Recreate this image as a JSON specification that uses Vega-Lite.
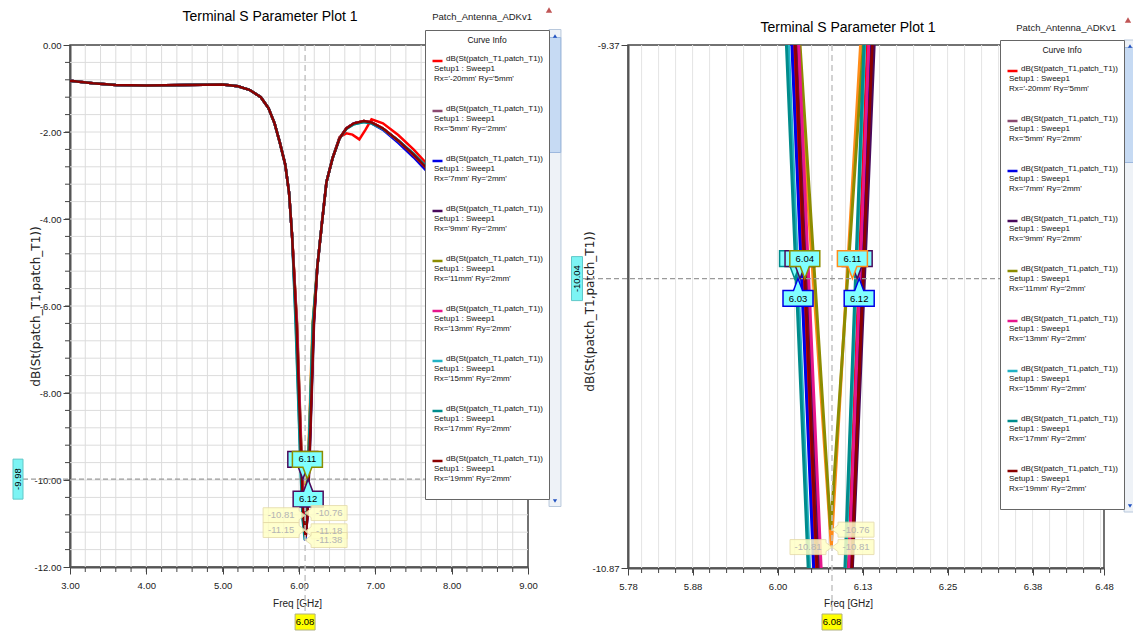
{
  "$schema": "https://vega.github.io/schema/vega-lite/v6.json",
  "background": "white",
  "padding": {"left": 10, "top": 6, "right": 0, "bottom": 0},
  "spacing": 4,
  "config": {
    "font": "Liberation Sans",
    "view": {"stroke": "#444", "strokeWidth": 1.5},
    "axis": {
      "labelFont": "Liberation Sans",
      "labelFontSize": 9.5,
      "labelColor": "#222",
      "titleFont": "Liberation Sans",
      "titleFontWeight": "normal",
      "titleColor": "#222",
      "titleFontSize": 10,
      "domainColor": "#555",
      "domainWidth": 2,
      "tickColor": "#444",
      "grid": false,
      "labelFlush": false,
      "labelOverlap": false
    },
    "legend": {
      "orient": "none",
      "titleFont": "Liberation Sans",
      "titleFontSize": 8.5,
      "titleFontWeight": "normal",
      "titleColor": "#111",
      "titleAnchor": "middle",
      "titleAlign": "center",
      "titlePadding": 10,
      "labelFont": "Liberation Sans",
      "labelFontSize": 8,
      "labelColor": "#111",
      "labelBaseline": "alphabetic",
      "labelOffset": -10,
      "labelLimit": 300,
      "symbolType": "stroke",
      "symbolSize": 100,
      "symbolStrokeWidth": 2.5,
      "rowPadding": 11,
      "padding": 6,
      "strokeColor": "#666",
      "fillColor": "white"
    }
  },
  "resolve": {"legend": {"color": "independent"}},
  "datasets": {
    "gxL": [{"v":3.2},{"v":3.4},{"v":3.6},{"v":3.8},{"v":4},{"v":4.2},{"v":4.4},{"v":4.6},{"v":4.8},{"v":5},{"v":5.2},{"v":5.4},{"v":5.6},{"v":5.8},{"v":6},{"v":6.2},{"v":6.4},{"v":6.6},{"v":6.8},{"v":7},{"v":7.2},{"v":7.4},{"v":7.6},{"v":7.8},{"v":8},{"v":8.2},{"v":8.4},{"v":8.6},{"v":8.8}],
    "gyL": [{"v":-0.4},{"v":-0.8},{"v":-1.2},{"v":-1.6},{"v":-2},{"v":-2.4},{"v":-2.8},{"v":-3.2},{"v":-3.6},{"v":-4},{"v":-4.4},{"v":-4.8},{"v":-5.2},{"v":-5.6},{"v":-6},{"v":-6.4},{"v":-6.8},{"v":-7.2},{"v":-7.6},{"v":-8},{"v":-8.4},{"v":-8.8},{"v":-9.2},{"v":-9.6},{"v":-10},{"v":-10.4},{"v":-10.8},{"v":-11.2},{"v":-11.6}],
    "gxR": [{"v":5.8},{"v":5.825},{"v":5.85},{"v":5.875},{"v":5.9},{"v":5.925},{"v":5.95},{"v":5.975},{"v":6},{"v":6.025},{"v":6.05},{"v":6.075},{"v":6.1},{"v":6.125},{"v":6.15},{"v":6.175},{"v":6.2},{"v":6.225},{"v":6.25},{"v":6.275},{"v":6.3},{"v":6.325},{"v":6.35},{"v":6.375},{"v":6.4},{"v":6.425},{"v":6.45},{"v":6.475}],
    "curves": [
      {"c":"Rx='21mm' Ry='2mm'","f":3,"d":-0.82},{"c":"Rx='21mm' Ry='2mm'","f":3.3,"d":-0.88},{"c":"Rx='21mm' Ry='2mm'","f":3.6,"d":-0.92},{"c":"Rx='21mm' Ry='2mm'","f":4,"d":-0.93},{"c":"Rx='21mm' Ry='2mm'","f":4.5,"d":-0.92},{"c":"Rx='21mm' Ry='2mm'","f":5,"d":-0.91},{"c":"Rx='21mm' Ry='2mm'","f":5.2,"d":-0.95},{"c":"Rx='21mm' Ry='2mm'","f":5.35,"d":-1.03},{"c":"Rx='21mm' Ry='2mm'","f":5.5,"d":-1.2},{"c":"Rx='21mm' Ry='2mm'","f":5.6,"d":-1.45},{"c":"Rx='21mm' Ry='2mm'","f":5.68,"d":-1.8},{"c":"Rx='21mm' Ry='2mm'","f":5.75,"d":-2.25},{"c":"Rx='21mm' Ry='2mm'","f":5.82,"d":-2.75},{"c":"Rx='21mm' Ry='2mm'","f":5.87,"d":-3.4},{"c":"Rx='21mm' Ry='2mm'","f":5.91,"d":-4.4},
      {"c":"Rx='21mm' Ry='2mm'","f":5.971,"d":-6.4},{"c":"Rx='21mm' Ry='2mm'","f":6.029,"d":-9.37},{"c":"Rx='21mm' Ry='2mm'","f":6.079,"d":-10.81},{"c":"Rx='21mm' Ry='2mm'","f":6.122,"d":-9.37},{"c":"Rx='21mm' Ry='2mm'","f":6.177,"d":-6.4},
      {"c":"Rx='21mm' Ry='2mm'","f":6.24,"d":-5.1},{"c":"Rx='21mm' Ry='2mm'","f":6.3,"d":-4.1},{"c":"Rx='21mm' Ry='2mm'","f":6.36,"d":-3.15},{"c":"Rx='21mm' Ry='2mm'","f":6.44,"d":-2.6},{"c":"Rx='21mm' Ry='2mm'","f":6.53,"d":-2.15},{"c":"Rx='21mm' Ry='2mm'","f":6.62,"d":-1.92},{"c":"Rx='21mm' Ry='2mm'","f":6.72,"d":-1.8},{"c":"Rx='21mm' Ry='2mm'","f":6.85,"d":-1.75},{"c":"Rx='21mm' Ry='2mm'","f":6.95,"d":-1.78},{"c":"Rx='21mm' Ry='2mm'","f":7.1,"d":-1.92},{"c":"Rx='21mm' Ry='2mm'","f":7.3,"d":-2.2},{"c":"Rx='21mm' Ry='2mm'","f":7.5,"d":-2.52},{"c":"Rx='21mm' Ry='2mm'","f":7.7,"d":-2.88},{"c":"Rx='21mm' Ry='2mm'","f":8,"d":-3.35},{"c":"Rx='21mm' Ry='2mm'","f":8.5,"d":-3.95},{"c":"Rx='21mm' Ry='2mm'","f":9,"d":-4.5},

      {"c":"Rx='-20mm' Ry='5mm'","f":3,"d":-0.82},{"c":"Rx='-20mm' Ry='5mm'","f":3.3,"d":-0.88},{"c":"Rx='-20mm' Ry='5mm'","f":3.6,"d":-0.92},{"c":"Rx='-20mm' Ry='5mm'","f":4,"d":-0.93},{"c":"Rx='-20mm' Ry='5mm'","f":4.5,"d":-0.92},{"c":"Rx='-20mm' Ry='5mm'","f":5,"d":-0.91},{"c":"Rx='-20mm' Ry='5mm'","f":5.2,"d":-0.95},{"c":"Rx='-20mm' Ry='5mm'","f":5.35,"d":-1.03},{"c":"Rx='-20mm' Ry='5mm'","f":5.5,"d":-1.2},{"c":"Rx='-20mm' Ry='5mm'","f":5.6,"d":-1.45},{"c":"Rx='-20mm' Ry='5mm'","f":5.68,"d":-1.8},{"c":"Rx='-20mm' Ry='5mm'","f":5.75,"d":-2.25},{"c":"Rx='-20mm' Ry='5mm'","f":5.82,"d":-2.75},{"c":"Rx='-20mm' Ry='5mm'","f":5.87,"d":-3.4},{"c":"Rx='-20mm' Ry='5mm'","f":5.91,"d":-4.4},
      {"c":"Rx='-20mm' Ry='5mm'","f":5.966,"d":-6.4},{"c":"Rx='-20mm' Ry='5mm'","f":6.024,"d":-9.37},{"c":"Rx='-20mm' Ry='5mm'","f":6.056,"d":-10.87},{"c":"Rx='-20mm' Ry='5mm'","f":6.082,"d":-11.2},{"c":"Rx='-20mm' Ry='5mm'","f":6.104,"d":-10.87},{"c":"Rx='-20mm' Ry='5mm'","f":6.132,"d":-9.37},{"c":"Rx='-20mm' Ry='5mm'","f":6.187,"d":-6.4},
      {"c":"Rx='-20mm' Ry='5mm'","f":6.24,"d":-5.1},{"c":"Rx='-20mm' Ry='5mm'","f":6.3,"d":-4.1},{"c":"Rx='-20mm' Ry='5mm'","f":6.36,"d":-3.15},{"c":"Rx='-20mm' Ry='5mm'","f":6.44,"d":-2.6},{"c":"Rx='-20mm' Ry='5mm'","f":6.53,"d":-2.12},{"c":"Rx='-20mm' Ry='5mm'","f":6.62,"d":-2.03},{"c":"Rx='-20mm' Ry='5mm'","f":6.7,"d":-2.06},{"c":"Rx='-20mm' Ry='5mm'","f":6.79,"d":-2.17},{"c":"Rx='-20mm' Ry='5mm'","f":6.87,"d":-1.95},{"c":"Rx='-20mm' Ry='5mm'","f":6.95,"d":-1.71},{"c":"Rx='-20mm' Ry='5mm'","f":7.1,"d":-1.8},{"c":"Rx='-20mm' Ry='5mm'","f":7.3,"d":-2.07},{"c":"Rx='-20mm' Ry='5mm'","f":7.5,"d":-2.4},{"c":"Rx='-20mm' Ry='5mm'","f":7.7,"d":-2.78},{"c":"Rx='-20mm' Ry='5mm'","f":8,"d":-3.28},{"c":"Rx='-20mm' Ry='5mm'","f":8.5,"d":-3.9},{"c":"Rx='-20mm' Ry='5mm'","f":9,"d":-4.45},

      {"c":"Rx='5mm' Ry='2mm'","f":3,"d":-0.82},{"c":"Rx='5mm' Ry='2mm'","f":3.3,"d":-0.88},{"c":"Rx='5mm' Ry='2mm'","f":3.6,"d":-0.92},{"c":"Rx='5mm' Ry='2mm'","f":4,"d":-0.93},{"c":"Rx='5mm' Ry='2mm'","f":4.5,"d":-0.92},{"c":"Rx='5mm' Ry='2mm'","f":5,"d":-0.91},{"c":"Rx='5mm' Ry='2mm'","f":5.2,"d":-0.95},{"c":"Rx='5mm' Ry='2mm'","f":5.35,"d":-1.03},{"c":"Rx='5mm' Ry='2mm'","f":5.5,"d":-1.2},{"c":"Rx='5mm' Ry='2mm'","f":5.6,"d":-1.45},{"c":"Rx='5mm' Ry='2mm'","f":5.68,"d":-1.8},{"c":"Rx='5mm' Ry='2mm'","f":5.75,"d":-2.25},{"c":"Rx='5mm' Ry='2mm'","f":5.82,"d":-2.75},{"c":"Rx='5mm' Ry='2mm'","f":5.87,"d":-3.4},{"c":"Rx='5mm' Ry='2mm'","f":5.91,"d":-4.4},
      {"c":"Rx='5mm' Ry='2mm'","f":5.969,"d":-6.4},{"c":"Rx='5mm' Ry='2mm'","f":6.027,"d":-9.37},{"c":"Rx='5mm' Ry='2mm'","f":6.059,"d":-10.87},{"c":"Rx='5mm' Ry='2mm'","f":6.085,"d":-11.25},{"c":"Rx='5mm' Ry='2mm'","f":6.106,"d":-10.87},{"c":"Rx='5mm' Ry='2mm'","f":6.136,"d":-9.37},{"c":"Rx='5mm' Ry='2mm'","f":6.191,"d":-6.4},
      {"c":"Rx='5mm' Ry='2mm'","f":6.24,"d":-5.1},{"c":"Rx='5mm' Ry='2mm'","f":6.3,"d":-4.1},{"c":"Rx='5mm' Ry='2mm'","f":6.36,"d":-3.15},{"c":"Rx='5mm' Ry='2mm'","f":6.44,"d":-2.6},{"c":"Rx='5mm' Ry='2mm'","f":6.53,"d":-2.15},{"c":"Rx='5mm' Ry='2mm'","f":6.62,"d":-1.92},{"c":"Rx='5mm' Ry='2mm'","f":6.72,"d":-1.8},{"c":"Rx='5mm' Ry='2mm'","f":6.85,"d":-1.75},{"c":"Rx='5mm' Ry='2mm'","f":6.95,"d":-1.78},{"c":"Rx='5mm' Ry='2mm'","f":7.1,"d":-1.92},{"c":"Rx='5mm' Ry='2mm'","f":7.3,"d":-2.2},{"c":"Rx='5mm' Ry='2mm'","f":7.5,"d":-2.52},{"c":"Rx='5mm' Ry='2mm'","f":7.7,"d":-2.88},{"c":"Rx='5mm' Ry='2mm'","f":8,"d":-3.35},{"c":"Rx='5mm' Ry='2mm'","f":8.5,"d":-3.95},{"c":"Rx='5mm' Ry='2mm'","f":9,"d":-4.5},

      {"c":"Rx='7mm' Ry='2mm'","f":3,"d":-0.82},{"c":"Rx='7mm' Ry='2mm'","f":3.3,"d":-0.88},{"c":"Rx='7mm' Ry='2mm'","f":3.6,"d":-0.92},{"c":"Rx='7mm' Ry='2mm'","f":4,"d":-0.93},{"c":"Rx='7mm' Ry='2mm'","f":4.5,"d":-0.92},{"c":"Rx='7mm' Ry='2mm'","f":5,"d":-0.91},{"c":"Rx='7mm' Ry='2mm'","f":5.2,"d":-0.95},{"c":"Rx='7mm' Ry='2mm'","f":5.35,"d":-1.03},{"c":"Rx='7mm' Ry='2mm'","f":5.5,"d":-1.2},{"c":"Rx='7mm' Ry='2mm'","f":5.6,"d":-1.45},{"c":"Rx='7mm' Ry='2mm'","f":5.68,"d":-1.8},{"c":"Rx='7mm' Ry='2mm'","f":5.75,"d":-2.25},{"c":"Rx='7mm' Ry='2mm'","f":5.82,"d":-2.75},{"c":"Rx='7mm' Ry='2mm'","f":5.87,"d":-3.4},{"c":"Rx='7mm' Ry='2mm'","f":5.91,"d":-4.4},
      {"c":"Rx='7mm' Ry='2mm'","f":5.963,"d":-6.4},{"c":"Rx='7mm' Ry='2mm'","f":6.021,"d":-9.37},{"c":"Rx='7mm' Ry='2mm'","f":6.053,"d":-10.87},{"c":"Rx='7mm' Ry='2mm'","f":6.083,"d":-11.4},{"c":"Rx='7mm' Ry='2mm'","f":6.108,"d":-10.87},{"c":"Rx='7mm' Ry='2mm'","f":6.138,"d":-9.37},{"c":"Rx='7mm' Ry='2mm'","f":6.193,"d":-6.4},
      {"c":"Rx='7mm' Ry='2mm'","f":6.24,"d":-5.1},{"c":"Rx='7mm' Ry='2mm'","f":6.3,"d":-4.1},{"c":"Rx='7mm' Ry='2mm'","f":6.36,"d":-3.15},{"c":"Rx='7mm' Ry='2mm'","f":6.44,"d":-2.6},{"c":"Rx='7mm' Ry='2mm'","f":6.53,"d":-2.15},{"c":"Rx='7mm' Ry='2mm'","f":6.62,"d":-1.92},{"c":"Rx='7mm' Ry='2mm'","f":6.72,"d":-1.8},{"c":"Rx='7mm' Ry='2mm'","f":6.85,"d":-1.76},{"c":"Rx='7mm' Ry='2mm'","f":6.95,"d":-1.8},{"c":"Rx='7mm' Ry='2mm'","f":7.1,"d":-1.95},{"c":"Rx='7mm' Ry='2mm'","f":7.3,"d":-2.25},{"c":"Rx='7mm' Ry='2mm'","f":7.5,"d":-2.58},{"c":"Rx='7mm' Ry='2mm'","f":7.7,"d":-2.95},{"c":"Rx='7mm' Ry='2mm'","f":8,"d":-3.42},{"c":"Rx='7mm' Ry='2mm'","f":8.5,"d":-4.02},{"c":"Rx='7mm' Ry='2mm'","f":9,"d":-4.58},

      {"c":"Rx='9mm' Ry='2mm'","f":3,"d":-0.82},{"c":"Rx='9mm' Ry='2mm'","f":3.3,"d":-0.88},{"c":"Rx='9mm' Ry='2mm'","f":3.6,"d":-0.92},{"c":"Rx='9mm' Ry='2mm'","f":4,"d":-0.93},{"c":"Rx='9mm' Ry='2mm'","f":4.5,"d":-0.92},{"c":"Rx='9mm' Ry='2mm'","f":5,"d":-0.91},{"c":"Rx='9mm' Ry='2mm'","f":5.2,"d":-0.95},{"c":"Rx='9mm' Ry='2mm'","f":5.35,"d":-1.03},{"c":"Rx='9mm' Ry='2mm'","f":5.5,"d":-1.2},{"c":"Rx='9mm' Ry='2mm'","f":5.6,"d":-1.45},{"c":"Rx='9mm' Ry='2mm'","f":5.68,"d":-1.8},{"c":"Rx='9mm' Ry='2mm'","f":5.75,"d":-2.25},{"c":"Rx='9mm' Ry='2mm'","f":5.82,"d":-2.75},{"c":"Rx='9mm' Ry='2mm'","f":5.87,"d":-3.4},{"c":"Rx='9mm' Ry='2mm'","f":5.91,"d":-4.4},
      {"c":"Rx='9mm' Ry='2mm'","f":5.972,"d":-6.4},{"c":"Rx='9mm' Ry='2mm'","f":6.03,"d":-9.37},{"c":"Rx='9mm' Ry='2mm'","f":6.062,"d":-10.87},{"c":"Rx='9mm' Ry='2mm'","f":6.088,"d":-11.3},{"c":"Rx='9mm' Ry='2mm'","f":6.11,"d":-10.87},{"c":"Rx='9mm' Ry='2mm'","f":6.142,"d":-9.37},{"c":"Rx='9mm' Ry='2mm'","f":6.197,"d":-6.4},
      {"c":"Rx='9mm' Ry='2mm'","f":6.24,"d":-5.1},{"c":"Rx='9mm' Ry='2mm'","f":6.3,"d":-4.1},{"c":"Rx='9mm' Ry='2mm'","f":6.36,"d":-3.15},{"c":"Rx='9mm' Ry='2mm'","f":6.44,"d":-2.6},{"c":"Rx='9mm' Ry='2mm'","f":6.53,"d":-2.15},{"c":"Rx='9mm' Ry='2mm'","f":6.62,"d":-1.92},{"c":"Rx='9mm' Ry='2mm'","f":6.72,"d":-1.8},{"c":"Rx='9mm' Ry='2mm'","f":6.85,"d":-1.75},{"c":"Rx='9mm' Ry='2mm'","f":6.95,"d":-1.78},{"c":"Rx='9mm' Ry='2mm'","f":7.1,"d":-1.92},{"c":"Rx='9mm' Ry='2mm'","f":7.3,"d":-2.2},{"c":"Rx='9mm' Ry='2mm'","f":7.5,"d":-2.54},{"c":"Rx='9mm' Ry='2mm'","f":7.7,"d":-2.9},{"c":"Rx='9mm' Ry='2mm'","f":8,"d":-3.37},{"c":"Rx='9mm' Ry='2mm'","f":8.5,"d":-3.97},{"c":"Rx='9mm' Ry='2mm'","f":9,"d":-4.52},

      {"c":"Rx='11mm' Ry='2mm'","f":3,"d":-0.82},{"c":"Rx='11mm' Ry='2mm'","f":3.3,"d":-0.88},{"c":"Rx='11mm' Ry='2mm'","f":3.6,"d":-0.92},{"c":"Rx='11mm' Ry='2mm'","f":4,"d":-0.93},{"c":"Rx='11mm' Ry='2mm'","f":4.5,"d":-0.92},{"c":"Rx='11mm' Ry='2mm'","f":5,"d":-0.91},{"c":"Rx='11mm' Ry='2mm'","f":5.2,"d":-0.95},{"c":"Rx='11mm' Ry='2mm'","f":5.35,"d":-1.03},{"c":"Rx='11mm' Ry='2mm'","f":5.5,"d":-1.2},{"c":"Rx='11mm' Ry='2mm'","f":5.6,"d":-1.45},{"c":"Rx='11mm' Ry='2mm'","f":5.68,"d":-1.8},{"c":"Rx='11mm' Ry='2mm'","f":5.75,"d":-2.25},{"c":"Rx='11mm' Ry='2mm'","f":5.82,"d":-2.75},{"c":"Rx='11mm' Ry='2mm'","f":5.87,"d":-3.4},{"c":"Rx='11mm' Ry='2mm'","f":5.91,"d":-4.4},
      {"c":"Rx='11mm' Ry='2mm'","f":5.975,"d":-6.4},{"c":"Rx='11mm' Ry='2mm'","f":6.033,"d":-9.37},{"c":"Rx='11mm' Ry='2mm'","f":6.078,"d":-10.76},{"c":"Rx='11mm' Ry='2mm'","f":6.126,"d":-9.37},{"c":"Rx='11mm' Ry='2mm'","f":6.181,"d":-6.4},
      {"c":"Rx='11mm' Ry='2mm'","f":6.24,"d":-5.1},{"c":"Rx='11mm' Ry='2mm'","f":6.3,"d":-4.1},{"c":"Rx='11mm' Ry='2mm'","f":6.36,"d":-3.15},{"c":"Rx='11mm' Ry='2mm'","f":6.44,"d":-2.6},{"c":"Rx='11mm' Ry='2mm'","f":6.53,"d":-2.15},{"c":"Rx='11mm' Ry='2mm'","f":6.62,"d":-1.92},{"c":"Rx='11mm' Ry='2mm'","f":6.72,"d":-1.8},{"c":"Rx='11mm' Ry='2mm'","f":6.85,"d":-1.75},{"c":"Rx='11mm' Ry='2mm'","f":6.95,"d":-1.78},{"c":"Rx='11mm' Ry='2mm'","f":7.1,"d":-1.92},{"c":"Rx='11mm' Ry='2mm'","f":7.3,"d":-2.2},{"c":"Rx='11mm' Ry='2mm'","f":7.5,"d":-2.52},{"c":"Rx='11mm' Ry='2mm'","f":7.7,"d":-2.88},{"c":"Rx='11mm' Ry='2mm'","f":8,"d":-3.35},{"c":"Rx='11mm' Ry='2mm'","f":8.5,"d":-3.95},{"c":"Rx='11mm' Ry='2mm'","f":9,"d":-4.5},

      {"c":"Rx='13mm' Ry='2mm'","f":3,"d":-0.82},{"c":"Rx='13mm' Ry='2mm'","f":3.3,"d":-0.88},{"c":"Rx='13mm' Ry='2mm'","f":3.6,"d":-0.92},{"c":"Rx='13mm' Ry='2mm'","f":4,"d":-0.93},{"c":"Rx='13mm' Ry='2mm'","f":4.5,"d":-0.92},{"c":"Rx='13mm' Ry='2mm'","f":5,"d":-0.91},{"c":"Rx='13mm' Ry='2mm'","f":5.2,"d":-0.95},{"c":"Rx='13mm' Ry='2mm'","f":5.35,"d":-1.03},{"c":"Rx='13mm' Ry='2mm'","f":5.5,"d":-1.2},{"c":"Rx='13mm' Ry='2mm'","f":5.6,"d":-1.45},{"c":"Rx='13mm' Ry='2mm'","f":5.68,"d":-1.8},{"c":"Rx='13mm' Ry='2mm'","f":5.75,"d":-2.25},{"c":"Rx='13mm' Ry='2mm'","f":5.82,"d":-2.75},{"c":"Rx='13mm' Ry='2mm'","f":5.87,"d":-3.4},{"c":"Rx='13mm' Ry='2mm'","f":5.91,"d":-4.4},
      {"c":"Rx='13mm' Ry='2mm'","f":5.973,"d":-6.4},{"c":"Rx='13mm' Ry='2mm'","f":6.031,"d":-9.37},{"c":"Rx='13mm' Ry='2mm'","f":6.064,"d":-10.87},{"c":"Rx='13mm' Ry='2mm'","f":6.086,"d":-11.15},{"c":"Rx='13mm' Ry='2mm'","f":6.105,"d":-10.87},{"c":"Rx='13mm' Ry='2mm'","f":6.134,"d":-9.37},{"c":"Rx='13mm' Ry='2mm'","f":6.189,"d":-6.4},
      {"c":"Rx='13mm' Ry='2mm'","f":6.24,"d":-5.1},{"c":"Rx='13mm' Ry='2mm'","f":6.3,"d":-4.1},{"c":"Rx='13mm' Ry='2mm'","f":6.36,"d":-3.15},{"c":"Rx='13mm' Ry='2mm'","f":6.44,"d":-2.6},{"c":"Rx='13mm' Ry='2mm'","f":6.53,"d":-2.15},{"c":"Rx='13mm' Ry='2mm'","f":6.62,"d":-1.92},{"c":"Rx='13mm' Ry='2mm'","f":6.72,"d":-1.8},{"c":"Rx='13mm' Ry='2mm'","f":6.85,"d":-1.75},{"c":"Rx='13mm' Ry='2mm'","f":6.95,"d":-1.78},{"c":"Rx='13mm' Ry='2mm'","f":7.1,"d":-1.92},{"c":"Rx='13mm' Ry='2mm'","f":7.3,"d":-2.2},{"c":"Rx='13mm' Ry='2mm'","f":7.5,"d":-2.52},{"c":"Rx='13mm' Ry='2mm'","f":7.7,"d":-2.88},{"c":"Rx='13mm' Ry='2mm'","f":8,"d":-3.35},{"c":"Rx='13mm' Ry='2mm'","f":8.5,"d":-3.95},{"c":"Rx='13mm' Ry='2mm'","f":9,"d":-4.5},

      {"c":"Rx='15mm' Ry='2mm'","f":3,"d":-0.82},{"c":"Rx='15mm' Ry='2mm'","f":3.3,"d":-0.88},{"c":"Rx='15mm' Ry='2mm'","f":3.6,"d":-0.92},{"c":"Rx='15mm' Ry='2mm'","f":4,"d":-0.93},{"c":"Rx='15mm' Ry='2mm'","f":4.5,"d":-0.92},{"c":"Rx='15mm' Ry='2mm'","f":5,"d":-0.91},{"c":"Rx='15mm' Ry='2mm'","f":5.2,"d":-0.95},{"c":"Rx='15mm' Ry='2mm'","f":5.35,"d":-1.03},{"c":"Rx='15mm' Ry='2mm'","f":5.5,"d":-1.2},{"c":"Rx='15mm' Ry='2mm'","f":5.6,"d":-1.45},{"c":"Rx='15mm' Ry='2mm'","f":5.68,"d":-1.8},{"c":"Rx='15mm' Ry='2mm'","f":5.75,"d":-2.25},{"c":"Rx='15mm' Ry='2mm'","f":5.82,"d":-2.75},{"c":"Rx='15mm' Ry='2mm'","f":5.87,"d":-3.4},{"c":"Rx='15mm' Ry='2mm'","f":5.91,"d":-4.4},
      {"c":"Rx='15mm' Ry='2mm'","f":5.958,"d":-6.4},{"c":"Rx='15mm' Ry='2mm'","f":6.016,"d":-9.37},{"c":"Rx='15mm' Ry='2mm'","f":6.047,"d":-10.87},{"c":"Rx='15mm' Ry='2mm'","f":6.077,"d":-11.18},{"c":"Rx='15mm' Ry='2mm'","f":6.1,"d":-10.87},{"c":"Rx='15mm' Ry='2mm'","f":6.128,"d":-9.37},{"c":"Rx='15mm' Ry='2mm'","f":6.183,"d":-6.4},
      {"c":"Rx='15mm' Ry='2mm'","f":6.24,"d":-5.1},{"c":"Rx='15mm' Ry='2mm'","f":6.3,"d":-4.1},{"c":"Rx='15mm' Ry='2mm'","f":6.36,"d":-3.15},{"c":"Rx='15mm' Ry='2mm'","f":6.44,"d":-2.6},{"c":"Rx='15mm' Ry='2mm'","f":6.53,"d":-2.15},{"c":"Rx='15mm' Ry='2mm'","f":6.62,"d":-1.93},{"c":"Rx='15mm' Ry='2mm'","f":6.72,"d":-1.82},{"c":"Rx='15mm' Ry='2mm'","f":6.85,"d":-1.77},{"c":"Rx='15mm' Ry='2mm'","f":6.95,"d":-1.8},{"c":"Rx='15mm' Ry='2mm'","f":7.1,"d":-1.93},{"c":"Rx='15mm' Ry='2mm'","f":7.3,"d":-2.2},{"c":"Rx='15mm' Ry='2mm'","f":7.5,"d":-2.5},{"c":"Rx='15mm' Ry='2mm'","f":7.7,"d":-2.86},{"c":"Rx='15mm' Ry='2mm'","f":8,"d":-3.33},{"c":"Rx='15mm' Ry='2mm'","f":8.5,"d":-3.93},{"c":"Rx='15mm' Ry='2mm'","f":9,"d":-4.48},

      {"c":"Rx='17mm' Ry='2mm'","f":3,"d":-0.82},{"c":"Rx='17mm' Ry='2mm'","f":3.3,"d":-0.88},{"c":"Rx='17mm' Ry='2mm'","f":3.6,"d":-0.92},{"c":"Rx='17mm' Ry='2mm'","f":4,"d":-0.93},{"c":"Rx='17mm' Ry='2mm'","f":4.5,"d":-0.92},{"c":"Rx='17mm' Ry='2mm'","f":5,"d":-0.91},{"c":"Rx='17mm' Ry='2mm'","f":5.2,"d":-0.95},{"c":"Rx='17mm' Ry='2mm'","f":5.35,"d":-1.03},{"c":"Rx='17mm' Ry='2mm'","f":5.5,"d":-1.2},{"c":"Rx='17mm' Ry='2mm'","f":5.6,"d":-1.45},{"c":"Rx='17mm' Ry='2mm'","f":5.68,"d":-1.8},{"c":"Rx='17mm' Ry='2mm'","f":5.75,"d":-2.25},{"c":"Rx='17mm' Ry='2mm'","f":5.82,"d":-2.75},{"c":"Rx='17mm' Ry='2mm'","f":5.87,"d":-3.4},{"c":"Rx='17mm' Ry='2mm'","f":5.91,"d":-4.4},
      {"c":"Rx='17mm' Ry='2mm'","f":5.955,"d":-6.4},{"c":"Rx='17mm' Ry='2mm'","f":6.013,"d":-9.37},{"c":"Rx='17mm' Ry='2mm'","f":6.045,"d":-10.87},{"c":"Rx='17mm' Ry='2mm'","f":6.076,"d":-11.38},{"c":"Rx='17mm' Ry='2mm'","f":6.099,"d":-10.87},{"c":"Rx='17mm' Ry='2mm'","f":6.127,"d":-9.37},{"c":"Rx='17mm' Ry='2mm'","f":6.182,"d":-6.4},
      {"c":"Rx='17mm' Ry='2mm'","f":6.24,"d":-5.1},{"c":"Rx='17mm' Ry='2mm'","f":6.3,"d":-4.1},{"c":"Rx='17mm' Ry='2mm'","f":6.36,"d":-3.15},{"c":"Rx='17mm' Ry='2mm'","f":6.44,"d":-2.6},{"c":"Rx='17mm' Ry='2mm'","f":6.53,"d":-2.15},{"c":"Rx='17mm' Ry='2mm'","f":6.62,"d":-1.93},{"c":"Rx='17mm' Ry='2mm'","f":6.72,"d":-1.82},{"c":"Rx='17mm' Ry='2mm'","f":6.85,"d":-1.77},{"c":"Rx='17mm' Ry='2mm'","f":6.95,"d":-1.8},{"c":"Rx='17mm' Ry='2mm'","f":7.1,"d":-1.93},{"c":"Rx='17mm' Ry='2mm'","f":7.3,"d":-2.19},{"c":"Rx='17mm' Ry='2mm'","f":7.5,"d":-2.5},{"c":"Rx='17mm' Ry='2mm'","f":7.7,"d":-2.85},{"c":"Rx='17mm' Ry='2mm'","f":8,"d":-3.32},{"c":"Rx='17mm' Ry='2mm'","f":8.5,"d":-3.92},{"c":"Rx='17mm' Ry='2mm'","f":9,"d":-4.47},

      {"c":"Rx='19mm' Ry='2mm'","f":3,"d":-0.82},{"c":"Rx='19mm' Ry='2mm'","f":3.3,"d":-0.88},{"c":"Rx='19mm' Ry='2mm'","f":3.6,"d":-0.92},{"c":"Rx='19mm' Ry='2mm'","f":4,"d":-0.93},{"c":"Rx='19mm' Ry='2mm'","f":4.5,"d":-0.92},{"c":"Rx='19mm' Ry='2mm'","f":5,"d":-0.91},{"c":"Rx='19mm' Ry='2mm'","f":5.2,"d":-0.95},{"c":"Rx='19mm' Ry='2mm'","f":5.35,"d":-1.03},{"c":"Rx='19mm' Ry='2mm'","f":5.5,"d":-1.2},{"c":"Rx='19mm' Ry='2mm'","f":5.6,"d":-1.45},{"c":"Rx='19mm' Ry='2mm'","f":5.68,"d":-1.8},{"c":"Rx='19mm' Ry='2mm'","f":5.75,"d":-2.25},{"c":"Rx='19mm' Ry='2mm'","f":5.82,"d":-2.75},{"c":"Rx='19mm' Ry='2mm'","f":5.87,"d":-3.4},{"c":"Rx='19mm' Ry='2mm'","f":5.91,"d":-4.4},
      {"c":"Rx='19mm' Ry='2mm'","f":5.968,"d":-6.4},{"c":"Rx='19mm' Ry='2mm'","f":6.026,"d":-9.37},{"c":"Rx='19mm' Ry='2mm'","f":6.058,"d":-10.87},{"c":"Rx='19mm' Ry='2mm'","f":6.087,"d":-11.3},{"c":"Rx='19mm' Ry='2mm'","f":6.109,"d":-10.87},{"c":"Rx='19mm' Ry='2mm'","f":6.139,"d":-9.37},{"c":"Rx='19mm' Ry='2mm'","f":6.194,"d":-6.4},
      {"c":"Rx='19mm' Ry='2mm'","f":6.24,"d":-5.1},{"c":"Rx='19mm' Ry='2mm'","f":6.3,"d":-4.1},{"c":"Rx='19mm' Ry='2mm'","f":6.36,"d":-3.15},{"c":"Rx='19mm' Ry='2mm'","f":6.44,"d":-2.6},{"c":"Rx='19mm' Ry='2mm'","f":6.53,"d":-2.15},{"c":"Rx='19mm' Ry='2mm'","f":6.62,"d":-1.92},{"c":"Rx='19mm' Ry='2mm'","f":6.72,"d":-1.8},{"c":"Rx='19mm' Ry='2mm'","f":6.85,"d":-1.75},{"c":"Rx='19mm' Ry='2mm'","f":6.95,"d":-1.78},{"c":"Rx='19mm' Ry='2mm'","f":7.1,"d":-1.92},{"c":"Rx='19mm' Ry='2mm'","f":7.3,"d":-2.2},{"c":"Rx='19mm' Ry='2mm'","f":7.5,"d":-2.52},{"c":"Rx='19mm' Ry='2mm'","f":7.7,"d":-2.88},{"c":"Rx='19mm' Ry='2mm'","f":8,"d":-3.35},{"c":"Rx='19mm' Ry='2mm'","f":8.5,"d":-3.95},{"c":"Rx='19mm' Ry='2mm'","f":9,"d":-4.5}
    ]
  },
  "hconcat": [
    {
      "width": 458,
      "height": 522,
      "layer": [
        {
          "data": {"name": "gxL"},
          "mark": {"type": "rule", "color": "#DCDCDC", "strokeWidth": 1},
          "encoding": {"x": {"field": "v", "type": "quantitative"}}
        },
        {
          "data": {"name": "gyL"},
          "mark": {"type": "rule", "color": "#DCDCDC", "strokeWidth": 1},
          "encoding": {"y": {"field": "v", "type": "quantitative"}}
        },
        {
          "data": {"name": "gxL"},
          "mark": {"type": "rule", "color": "#444", "strokeWidth": 1, "y2Offset": 5},
          "encoding": {"x": {"field": "v", "type": "quantitative"}, "y": {"datum": -12, "type": "quantitative"}, "y2": {"datum": -12}}
        },
        {
          "data": {"name": "gyL"},
          "mark": {"type": "rule", "color": "#444", "strokeWidth": 1, "x2Offset": -5},
          "encoding": {"y": {"field": "v", "type": "quantitative"}, "x": {"datum": 3, "type": "quantitative"}, "x2": {"datum": 3}}
        },
        {
          "data": {"name": "curves"},
          "mark": {"type": "line", "strokeWidth": 2.5, "clip": true},
          "encoding": {
            "x": {"field": "f", "type": "quantitative", "scale": {"domain": [3, 9], "nice": false, "zero": false},
              "axis": {"values": [3, 4, 5, 6, 7, 8, 9],
                "labelExpr": "format(datum.value, '.2f')",
                "title": "Freq [GHz]", "titleX": 227, "titleY": 36, "titleBaseline": "middle", "titleAlign": "center",
                "tickSize": 7, "labelPadding": 6}},
            "y": {"field": "d", "type": "quantitative", "scale": {"domain": [-12, 0], "nice": false, "zero": false},
              "axis": {"values": [0, -2, -4, -6, -8, -10, -12],
                "labelExpr": "(datum.value < 0 ? '-' : '') + format(abs(datum.value), '.2f')",
                "title": "dB(St(patch_T1,patch_T1))", "titleFont": "DejaVu Sans", "titleFontSize": 12, "titleX": -28, "titleY": 261, "titleAngle": 270, "titleBaseline": "bottom", "titleAlign": "center",
                "tickSize": 7, "labelPadding": 2}},
            "color": {"field": "c", "type": "nominal",
              "scale": {"domain": ["Rx='-20mm' Ry='5mm'","Rx='5mm' Ry='2mm'","Rx='7mm' Ry='2mm'","Rx='9mm' Ry='2mm'","Rx='11mm' Ry='2mm'","Rx='13mm' Ry='2mm'","Rx='15mm' Ry='2mm'","Rx='17mm' Ry='2mm'","Rx='19mm' Ry='2mm'","Rx='21mm' Ry='2mm'"],
                "range": ["#FF0000","#8B4A70","#0000E6","#4A0A5C","#8C8C00","#E6168C","#22B2C4","#008C8C","#8B0000","#FF8C1A"]},
              "legend": {"title": "Curve Info", "legendX": 355, "legendY": -15,
                "values": ["Rx='-20mm' Ry='5mm'","Rx='5mm' Ry='2mm'","Rx='7mm' Ry='2mm'","Rx='9mm' Ry='2mm'","Rx='11mm' Ry='2mm'","Rx='13mm' Ry='2mm'","Rx='15mm' Ry='2mm'","Rx='17mm' Ry='2mm'","Rx='19mm' Ry='2mm'"],
                "labelExpr": "['\u2800\u2800dB(St(patch_T1,patch_T1))', 'Setup1 : Sweep1', datum.label, '']"}}
          }
        },
        {
          "data": {"values": [{}]},
          "mark": {"type": "rule", "strokeDash": [6, 4], "color": "#C4C4C4", "strokeWidth": 1.5, "y2Offset": 47},
          "encoding": {"x": {"datum": 6.08, "type": "quantitative"}, "y": {"datum": 0, "type": "quantitative"}, "y2": {"datum": -12}}
        },
        {
          "data": {"values": [{}]},
          "mark": {"type": "rule", "strokeDash": [5, 3], "color": "#9A9A9A", "strokeWidth": 1.2, "xOffset": -47},
          "encoding": {"y": {"datum": -9.98, "type": "quantitative"}, "x": {"datum": 3, "type": "quantitative"}, "x2": {"datum": 9}}
        },
        {
          "data": {"values": [{"v": "-9.98"}]},
          "mark": {"type": "point", "shape": "M-0.25,-1H0.25V1H-0.25Z", "size": 1600, "filled": true, "fill": "#7CF4F4", "stroke": "#60C8C8", "strokeWidth": 1, "opacity": 1, "xOffset": -52},
          "encoding": {"x": {"datum": 3, "type": "quantitative"}, "y": {"datum": -9.98, "type": "quantitative"}}
        },
        {
          "data": {"values": [{"v": "-9.98"}]},
          "mark": {"type": "text", "angle": 270, "fontSize": 9.5, "color": "#000", "xOffset": -52, "align": "center", "baseline": "middle"},
          "encoding": {"x": {"datum": 3, "type": "quantitative"}, "y": {"datum": -9.98, "type": "quantitative"}, "text": {"field": "v"}}
        },
        {
          "data": {"values": [{"v": "6.08"}]},
          "mark": {"type": "point", "shape": "M-1,-0.8H1V0.8H-1Z", "size": 400, "filled": true, "fill": "#FFFF00", "stroke": "#B0B080", "strokeWidth": 1, "opacity": 1, "yOffset": 55},
          "encoding": {"x": {"datum": 6.08, "type": "quantitative"}, "y": {"datum": -12, "type": "quantitative"}}
        },
        {
          "data": {"values": [{"v": "6.08"}]},
          "mark": {"type": "text", "fontSize": 9.5, "color": "#000", "yOffset": 55, "align": "center", "baseline": "middle"},
          "encoding": {"x": {"datum": 6.08, "type": "quantitative"}, "y": {"datum": -12, "type": "quantitative"}, "text": {"field": "v"}}
        },
        {
          "data": {"values": [{"f": 6.05, "d": -9.98, "c": "Rx='9mm' Ry='2mm'"}, {"f": 6.11, "d": -9.98, "c": "Rx='11mm' Ry='2mm'"}]},
          "mark": {"type": "point", "shape": "M-1,-1.85H1V-0.8H0.3L0,0L-0.3,-0.8H-1Z", "size": 900, "filled": true, "fill": "#80FFFF", "strokeWidth": 1.5, "opacity": 1},
          "encoding": {"x": {"field": "f", "type": "quantitative"}, "y": {"field": "d", "type": "quantitative"},
            "stroke": {"field": "c", "type": "nominal", "legend": null,
              "scale": {"domain": ["Rx='-20mm' Ry='5mm'","Rx='5mm' Ry='2mm'","Rx='7mm' Ry='2mm'","Rx='9mm' Ry='2mm'","Rx='11mm' Ry='2mm'","Rx='13mm' Ry='2mm'","Rx='15mm' Ry='2mm'","Rx='17mm' Ry='2mm'","Rx='19mm' Ry='2mm'","Rx='21mm' Ry='2mm'"],
                "range": ["#FF0000","#8B4A70","#0000E6","#4A0A5C","#8C8C00","#E6168C","#22B2C4","#008C8C","#8B0000","#FF8C1A"]}}}
        },
        {
          "data": {"values": [{"f": 6.12, "d": -9.98, "c": "Rx='9mm' Ry='2mm'"}]},
          "mark": {"type": "point", "shape": "M-1,1.85H1V0.8H0.3L0,0L-0.3,0.8H-1Z", "size": 900, "filled": true, "fill": "#80FFFF", "strokeWidth": 1.5, "opacity": 1},
          "encoding": {"x": {"field": "f", "type": "quantitative"}, "y": {"field": "d", "type": "quantitative"},
            "stroke": {"field": "c", "type": "nominal", "legend": null}}
        },
        {
          "data": {"values": [{"f": 6.11, "d": -9.98, "t": "6.11"}]},
          "mark": {"type": "text", "fontSize": 9.5, "color": "#000", "dy": -20, "align": "center", "baseline": "middle"},
          "encoding": {"x": {"field": "f", "type": "quantitative"}, "y": {"field": "d", "type": "quantitative"}, "text": {"field": "t"}}
        },
        {
          "data": {"values": [{"f": 6.12, "d": -9.98, "t": "6.12"}]},
          "mark": {"type": "text", "fontSize": 9.5, "color": "#000", "dy": 20, "align": "center", "baseline": "middle"},
          "encoding": {"x": {"field": "f", "type": "quantitative"}, "y": {"field": "d", "type": "quantitative"}, "text": {"field": "t"}}
        },
        {
          "data": {"values": [{"f": 6.08, "d": -10.81, "t": "-10.81"}, {"f": 6.08, "d": -11.15, "t": "-11.15"}]},
          "layer": [
            {"mark": {"type": "point", "shape": "M0,0L-0.4,-0.3V-0.5H-2.8V0.5H-0.4V0.3Z", "size": 900, "filled": true, "fill": "#FFFFC6", "stroke": "#E6DCA8", "strokeWidth": 1, "opacity": 0.85},
             "encoding": {"x": {"field": "f", "type": "quantitative"}, "y": {"field": "d", "type": "quantitative"}}},
            {"mark": {"type": "text", "fontSize": 9.5, "color": "#B4B4B4", "dx": -24, "align": "center", "baseline": "middle"},
             "encoding": {"x": {"field": "f", "type": "quantitative"}, "y": {"field": "d", "type": "quantitative"}, "text": {"field": "t"}}}
          ]
        },
        {
          "data": {"values": [{"f": 6.08, "d": -10.76, "t": "-10.76"}, {"f": 6.08, "d": -11.18, "t": "-11.18"}, {"f": 6.08, "d": -11.38, "t": "-11.38"}]},
          "layer": [
            {"mark": {"type": "point", "shape": "M0,0L0.4,-0.3V-0.5H2.8V0.5H0.4V0.3Z", "size": 900, "filled": true, "fill": "#FFFFC6", "stroke": "#E6DCA8", "strokeWidth": 1, "opacity": 0.85},
             "encoding": {"x": {"field": "f", "type": "quantitative"}, "y": {"field": "d", "type": "quantitative"}}},
            {"mark": {"type": "text", "fontSize": 9.5, "color": "#B4B4B4", "dx": 24, "align": "center", "baseline": "middle"},
             "encoding": {"x": {"field": "f", "type": "quantitative"}, "y": {"field": "d", "type": "quantitative"}, "text": {"field": "t"}}}
          ]
        },
        {
          "data": {"values": [{"t": "Terminal S Parameter Plot 1"}]},
          "mark": {"type": "text", "fontSize": 14, "color": "#000", "align": "center", "baseline": "middle", "dx": -29, "dy": -28},
          "encoding": {"x": {"datum": 6, "type": "quantitative"}, "y": {"datum": 0, "type": "quantitative"}, "text": {"field": "t"}}
        },
        {
          "data": {"values": [{"t": "Patch_Antenna_ADKv1"}]},
          "mark": {"type": "text", "fontSize": 9.5, "color": "#222", "align": "right", "baseline": "middle", "dx": 4, "dy": -28},
          "encoding": {"x": {"datum": 9, "type": "quantitative"}, "y": {"datum": 0, "type": "quantitative"}, "text": {"field": "t"}}
        },
        {
          "data": {"values": [{"t": "a"}]},
          "mark": {"type": "point", "shape": "triangle-up", "size": 40, "filled": true, "color": "#C05555", "opacity": 1, "xOffset": 21, "yOffset": -35},
          "encoding": {"x": {"datum": 9, "type": "quantitative"}, "y": {"datum": 0, "type": "quantitative"}}
        },
        {
          "data": {"values": [{"t": "track"}]},
          "mark": {"type": "point", "shape": "M-0.025,-1H0.025V1H-0.025Z", "size": 227529, "filled": true, "fill": "#EEF2F7", "stroke": "#B8C8DC", "strokeWidth": 1, "opacity": 1, "xOffset": 27, "yOffset": 223},
          "encoding": {"x": {"datum": 9, "type": "quantitative"}, "y": {"datum": 0, "type": "quantitative"}}
        },
        {
          "data": {"values": [{"t": "thumb"}]},
          "mark": {"type": "point", "shape": "M-0.1,-1H0.1V1H-0.1Z", "size": 13225, "filled": true, "fill": "#C6DAF3", "stroke": "#9DB8DE", "strokeWidth": 1, "opacity": 1, "xOffset": 27, "yOffset": 50},
          "encoding": {"x": {"datum": 9, "type": "quantitative"}, "y": {"datum": 0, "type": "quantitative"}}
        },
        {
          "data": {"values": [{"t": "up"}]},
          "mark": {"type": "point", "shape": "triangle-up", "size": 18, "filled": true, "color": "#2050C0", "opacity": 1, "xOffset": 27, "yOffset": -9},
          "encoding": {"x": {"datum": 9, "type": "quantitative"}, "y": {"datum": 0, "type": "quantitative"}}
        },
        {
          "data": {"values": [{"t": "down"}]},
          "mark": {"type": "point", "shape": "triangle-down", "size": 18, "filled": true, "color": "#2050C0", "opacity": 1, "xOffset": 27, "yOffset": 456},
          "encoding": {"x": {"datum": 9, "type": "quantitative"}, "y": {"datum": 0, "type": "quantitative"}}
        }
      ]
    },
    {
      "width": 476,
      "height": 523,
      "layer": [
        {
          "data": {"name": "gxR"},
          "mark": {"type": "rule", "color": "#E4E4E4", "strokeWidth": 1},
          "encoding": {"x": {"field": "v", "type": "quantitative"}}
        },
        {
          "data": {"name": "gxR"},
          "mark": {"type": "rule", "color": "#444", "strokeWidth": 1, "y2Offset": 5},
          "encoding": {"x": {"field": "v", "type": "quantitative"}, "y": {"datum": -10.87, "type": "quantitative"}, "y2": {"datum": -10.87}}
        },
        {
          "data": {"name": "curves"},
          "mark": {"type": "line", "strokeWidth": 3, "clip": true},
          "encoding": {
            "x": {"field": "f", "type": "quantitative", "scale": {"domain": [5.78, 6.48], "nice": false, "zero": false},
              "axis": {"values": [5.78, 5.875, 6, 6.125, 6.25, 6.375, 6.48],
                "labelExpr": "format(datum.value, '.2f')",
                "title": "Freq [GHz]", "titleX": 220, "titleY": 35, "titleBaseline": "middle", "titleAlign": "center",
                "tickSize": 7, "labelPadding": 6}},
            "y": {"field": "d", "type": "quantitative", "scale": {"domain": [-10.87, -9.37], "nice": false, "zero": false},
              "axis": {"values": [-9.37, -10.87],
                "labelExpr": "'-' + format(abs(datum.value), '.2f')",
                "title": "dB(St(patch_T1,patch_T1))", "titleFont": "DejaVu Sans", "titleFontSize": 12, "titleX": -32, "titleY": 266, "titleAngle": 270, "titleBaseline": "bottom", "titleAlign": "center",
                "tickSize": 7, "labelPadding": 2}},
            "color": {"field": "c", "type": "nominal",
              "scale": {"domain": ["Rx='-20mm' Ry='5mm'","Rx='5mm' Ry='2mm'","Rx='7mm' Ry='2mm'","Rx='9mm' Ry='2mm'","Rx='11mm' Ry='2mm'","Rx='13mm' Ry='2mm'","Rx='15mm' Ry='2mm'","Rx='17mm' Ry='2mm'","Rx='19mm' Ry='2mm'","Rx='21mm' Ry='2mm'"],
                "range": ["#FF0000","#8B4A70","#0000E6","#4A0A5C","#8C8C00","#E6168C","#22B2C4","#008C8C","#8B0000","#FF8C1A"]},
              "legend": {"title": "Curve Info", "legendX": 372, "legendY": -5,
                "values": ["Rx='-20mm' Ry='5mm'","Rx='5mm' Ry='2mm'","Rx='7mm' Ry='2mm'","Rx='9mm' Ry='2mm'","Rx='11mm' Ry='2mm'","Rx='13mm' Ry='2mm'","Rx='15mm' Ry='2mm'","Rx='17mm' Ry='2mm'","Rx='19mm' Ry='2mm'"],
                "labelExpr": "['\u2800\u2800dB(St(patch_T1,patch_T1))', 'Setup1 : Sweep1', datum.label, '']"}}
          }
        },
        {
          "data": {"values": [{}]},
          "mark": {"type": "rule", "strokeDash": [6, 4], "color": "#C4C4C4", "strokeWidth": 1.5, "y2Offset": 46},
          "encoding": {"x": {"datum": 6.08, "type": "quantitative"}, "y": {"datum": -9.37, "type": "quantitative"}, "y2": {"datum": -10.87}}
        },
        {
          "data": {"values": [{}]},
          "mark": {"type": "rule", "strokeDash": [5, 3], "color": "#9A9A9A", "strokeWidth": 1.2, "xOffset": -46},
          "encoding": {"y": {"datum": -10.04, "type": "quantitative"}, "x": {"datum": 5.78, "type": "quantitative"}, "x2": {"datum": 6.48}}
        },
        {
          "data": {"values": [{"v": "-10.04"}]},
          "mark": {"type": "point", "shape": "M-0.25,-1H0.25V1H-0.25Z", "size": 1936, "filled": true, "fill": "#7CF4F4", "stroke": "#60C8C8", "strokeWidth": 1, "opacity": 1, "xOffset": -51},
          "encoding": {"x": {"datum": 5.78, "type": "quantitative"}, "y": {"datum": -10.04, "type": "quantitative"}}
        },
        {
          "data": {"values": [{"v": "-10.04"}]},
          "mark": {"type": "text", "angle": 270, "fontSize": 9.5, "color": "#000", "xOffset": -51, "align": "center", "baseline": "middle"},
          "encoding": {"x": {"datum": 5.78, "type": "quantitative"}, "y": {"datum": -10.04, "type": "quantitative"}, "text": {"field": "v"}}
        },
        {
          "data": {"values": [{"v": "6.08"}]},
          "mark": {"type": "point", "shape": "M-1,-0.8H1V0.8H-1Z", "size": 400, "filled": true, "fill": "#FFFF00", "stroke": "#B0B080", "strokeWidth": 1, "opacity": 1, "yOffset": 54},
          "encoding": {"x": {"datum": 6.08, "type": "quantitative"}, "y": {"datum": -10.87, "type": "quantitative"}}
        },
        {
          "data": {"values": [{"v": "6.08"}]},
          "mark": {"type": "text", "fontSize": 9.5, "color": "#000", "yOffset": 54, "align": "center", "baseline": "middle"},
          "encoding": {"x": {"datum": 6.08, "type": "quantitative"}, "y": {"datum": -10.87, "type": "quantitative"}, "text": {"field": "v"}}
        },
        {
          "data": {"values": [{"f": 6.025, "d": -10.04, "c": "Rx='17mm' Ry='2mm'"}, {"f": 6.033, "d": -10.04, "c": "Rx='9mm' Ry='2mm'"}, {"f": 6.04, "d": -10.04, "c": "Rx='11mm' Ry='2mm'"}, {"f": 6.117, "d": -10.04, "c": "Rx='9mm' Ry='2mm'"}, {"f": 6.11, "d": -10.04, "c": "Rx='21mm' Ry='2mm'"}]},
          "mark": {"type": "point", "shape": "M-1,-1.85H1V-0.8H0.3L0,0L-0.3,-0.8H-1Z", "size": 900, "filled": true, "fill": "#80FFFF", "strokeWidth": 1.5, "opacity": 1},
          "encoding": {"x": {"field": "f", "type": "quantitative"}, "y": {"field": "d", "type": "quantitative"},
            "stroke": {"field": "c", "type": "nominal", "legend": null,
              "scale": {"domain": ["Rx='-20mm' Ry='5mm'","Rx='5mm' Ry='2mm'","Rx='7mm' Ry='2mm'","Rx='9mm' Ry='2mm'","Rx='11mm' Ry='2mm'","Rx='13mm' Ry='2mm'","Rx='15mm' Ry='2mm'","Rx='17mm' Ry='2mm'","Rx='19mm' Ry='2mm'","Rx='21mm' Ry='2mm'"],
                "range": ["#FF0000","#8B4A70","#0000E6","#4A0A5C","#8C8C00","#E6168C","#22B2C4","#008C8C","#8B0000","#FF8C1A"]}}}
        },
        {
          "data": {"values": [{"f": 6.03, "d": -10.04, "c": "Rx='7mm' Ry='2mm'"}, {"f": 6.12, "d": -10.04, "c": "Rx='7mm' Ry='2mm'"}]},
          "mark": {"type": "point", "shape": "M-1,1.85H1V0.8H0.3L0,0L-0.3,0.8H-1Z", "size": 900, "filled": true, "fill": "#80FFFF", "strokeWidth": 1.5, "opacity": 1},
          "encoding": {"x": {"field": "f", "type": "quantitative"}, "y": {"field": "d", "type": "quantitative"},
            "stroke": {"field": "c", "type": "nominal", "legend": null}}
        },
        {
          "data": {"values": [{"f": 6.04, "d": -10.04, "t": "6.04"}, {"f": 6.11, "d": -10.04, "t": "6.11"}]},
          "mark": {"type": "text", "fontSize": 9.5, "color": "#000", "dy": -20, "align": "center", "baseline": "middle"},
          "encoding": {"x": {"field": "f", "type": "quantitative"}, "y": {"field": "d", "type": "quantitative"}, "text": {"field": "t"}}
        },
        {
          "data": {"values": [{"f": 6.03, "d": -10.04, "t": "6.03"}, {"f": 6.12, "d": -10.04, "t": "6.12"}]},
          "mark": {"type": "text", "fontSize": 9.5, "color": "#000", "dy": 20, "align": "center", "baseline": "middle"},
          "encoding": {"x": {"field": "f", "type": "quantitative"}, "y": {"field": "d", "type": "quantitative"}, "text": {"field": "t"}}
        },
        {
          "data": {"values": [{"f": 6.08, "d": -10.81, "t": "-10.81"}]},
          "layer": [
            {"mark": {"type": "point", "shape": "M0,0L-0.4,-0.3V-0.5H-2.8V0.5H-0.4V0.3Z", "size": 900, "filled": true, "fill": "#FFFFC6", "stroke": "#E6DCA8", "strokeWidth": 1, "opacity": 0.85},
             "encoding": {"x": {"field": "f", "type": "quantitative"}, "y": {"field": "d", "type": "quantitative"}}},
            {"mark": {"type": "text", "fontSize": 9.5, "color": "#B4B4B4", "dx": -24, "align": "center", "baseline": "middle"},
             "encoding": {"x": {"field": "f", "type": "quantitative"}, "y": {"field": "d", "type": "quantitative"}, "text": {"field": "t"}}}
          ]
        },
        {
          "data": {"values": [{"f": 6.08, "d": -10.76, "t": "-10.76"}, {"f": 6.08, "d": -10.81, "t": "-10.81"}]},
          "layer": [
            {"mark": {"type": "point", "shape": "M0,0L0.4,-0.3V-0.5H2.8V0.5H0.4V0.3Z", "size": 900, "filled": true, "fill": "#FFFFC6", "stroke": "#E6DCA8", "strokeWidth": 1, "opacity": 0.85},
             "encoding": {"x": {"field": "f", "type": "quantitative"}, "y": {"field": "d", "type": "quantitative"}}},
            {"mark": {"type": "text", "fontSize": 9.5, "color": "#B4B4B4", "dx": 24, "align": "center", "baseline": "middle"},
             "encoding": {"x": {"field": "f", "type": "quantitative"}, "y": {"field": "d", "type": "quantitative"}, "text": {"field": "t"}}}
          ]
        },
        {
          "data": {"values": [{"t": "Terminal S Parameter Plot 1"}]},
          "mark": {"type": "text", "fontSize": 14, "color": "#000", "align": "center", "baseline": "middle", "dx": -18, "dy": -17},
          "encoding": {"x": {"datum": 6.13, "type": "quantitative"}, "y": {"datum": -9.37, "type": "quantitative"}, "text": {"field": "t"}}
        },
        {
          "data": {"values": [{"t": "Patch_Antenna_ADKv1"}]},
          "mark": {"type": "text", "fontSize": 9.5, "color": "#222", "align": "right", "baseline": "middle", "dx": 12, "dy": -17},
          "encoding": {"x": {"datum": 6.48, "type": "quantitative"}, "y": {"datum": -9.37, "type": "quantitative"}, "text": {"field": "t"}}
        },
        {
          "data": {"values": [{"t": "a"}]},
          "mark": {"type": "point", "shape": "triangle-up", "size": 40, "filled": true, "color": "#C05555", "opacity": 1, "xOffset": 24, "yOffset": -25},
          "encoding": {"x": {"datum": 6.48, "type": "quantitative"}, "y": {"datum": -9.37, "type": "quantitative"}}
        },
        {
          "data": {"values": [{"t": "track"}]},
          "mark": {"type": "point", "shape": "M-0.025,-1H0.025V1H-0.025Z", "size": 222784, "filled": true, "fill": "#EEF2F7", "stroke": "#B8C8DC", "strokeWidth": 1, "opacity": 1, "xOffset": 26, "yOffset": 231},
          "encoding": {"x": {"datum": 6.48, "type": "quantitative"}, "y": {"datum": -9.37, "type": "quantitative"}}
        },
        {
          "data": {"values": [{"t": "thumb"}]},
          "mark": {"type": "point", "shape": "M-0.1,-1H0.1V1H-0.1Z", "size": 13225, "filled": true, "fill": "#C6DAF3", "stroke": "#9DB8DE", "strokeWidth": 1, "opacity": 1, "xOffset": 26, "yOffset": 60},
          "encoding": {"x": {"datum": 6.48, "type": "quantitative"}, "y": {"datum": -9.37, "type": "quantitative"}}
        },
        {
          "data": {"values": [{"t": "up"}]},
          "mark": {"type": "point", "shape": "triangle-up", "size": 18, "filled": true, "color": "#2050C0", "opacity": 1, "xOffset": 26, "yOffset": 1},
          "encoding": {"x": {"datum": 6.48, "type": "quantitative"}, "y": {"datum": -9.37, "type": "quantitative"}}
        },
        {
          "data": {"values": [{"t": "down"}]},
          "mark": {"type": "point", "shape": "triangle-down", "size": 18, "filled": true, "color": "#2050C0", "opacity": 1, "xOffset": 26, "yOffset": 461},
          "encoding": {"x": {"datum": 6.48, "type": "quantitative"}, "y": {"datum": -9.37, "type": "quantitative"}}
        }
      ]
    }
  ]
}
